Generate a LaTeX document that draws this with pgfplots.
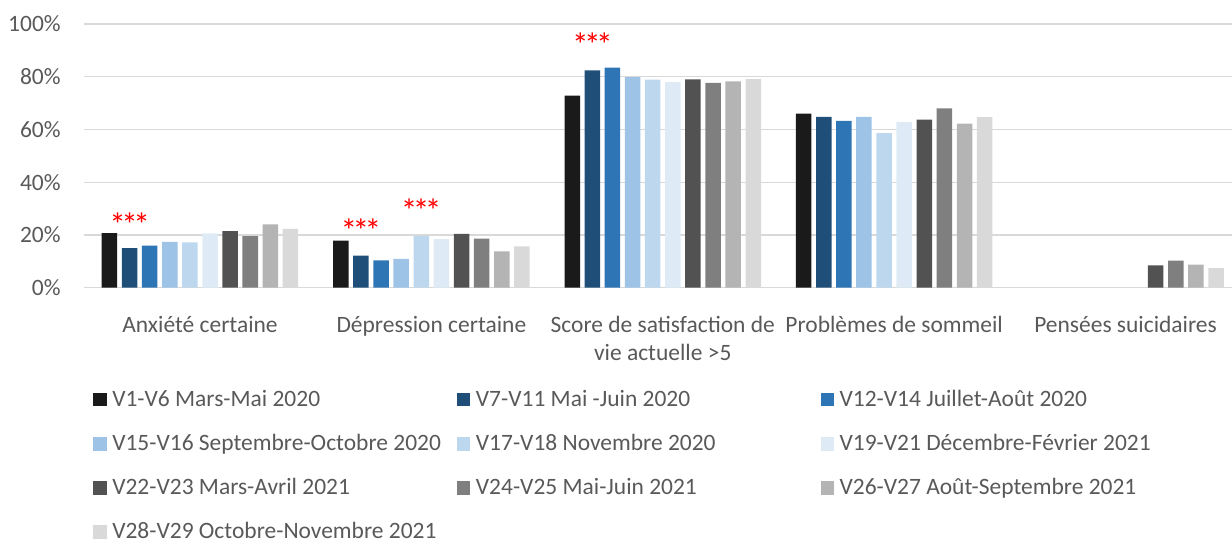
\documentclass[border=0pt]{standalone}
\usepackage{fontspec}
\setmainfont{Carlito}
\usepackage{pgfplots}
\usepackage{pgfplotstable}
\pgfplotsset{compat=1.18}
\definecolor{c1}{HTML}{1A1A1A}
\definecolor{c2}{HTML}{1F4E79}
\definecolor{c3}{HTML}{2E75B6}
\definecolor{c4}{HTML}{9DC3E6}
\definecolor{c5}{HTML}{BDD7EE}
\definecolor{c6}{HTML}{DEEBF7}
\definecolor{c7}{HTML}{525252}
\definecolor{c8}{HTML}{7F7F7F}
\definecolor{c9}{HTML}{B4B4B4}
\definecolor{c10}{HTML}{D9D9D9}
\definecolor{txt}{HTML}{595959}
\definecolor{gridc}{HTML}{D9D9D9}
\newcommand{\ff}{\fontsize{17.6}{21.4}\selectfont}
\newcommand{\lgd}[1]{\makebox[258.5pt][l]{#1}}
\newcommand{\stars}{\makebox[9pt]{*}\makebox[9pt]{*}\makebox[9pt]{*}}
\pgfplotstableread{
x v1 v2 v3 v4 v5 v6 v7 v8 v9 v10
0 20.7 15.0 16.0 17.4 17.2 20.6 21.5 19.6 24.0 22.3
1 17.9 12.2 10.4 10.9 19.6 18.4 20.4 18.6 13.8 15.7
2 72.8 82.4 83.5 79.9 78.9 78.0 79.0 77.7 78.2 79.1
3 66.0 64.8 63.3 64.8 58.6 62.8 63.7 68.0 62.2 64.7
4 nan nan nan nan nan nan 8.5 10.3 8.8 7.4
}\data
\begin{document}
\begin{tikzpicture}
\begin{axis}[
  at={(0,0)}, anchor=south west,
  scale only axis, width=867.75pt, height=197.8pt,
  xmin=-0.5, xmax=4.5, ymin=0, ymax=100,
  ybar, bar width=0.067,
  clip=false,
  axis line style={draw=none},
  tick style={draw=none},
  ymajorgrids, grid style={draw=gridc, line width=1pt},
  ytick={0,20,40,60,80,100},
  yticklabels={0\%,20\%,40\%,60\%,80\%,100\%},
  yticklabel style={anchor=east, inner sep=0pt, xshift=-17.5pt},
  xtick={0,1,2,3,4},
  xticklabels={Anxiété certaine, Dépression certaine, {\begin{tabular}[t]{@{}c@{}}Score de satisfaction de\\vie actuelle >5\end{tabular}}, Problèmes de sommeil, Pensées suicidaires},
  xticklabel style={anchor=base, inner sep=0pt, yshift=-29.25pt},
  tick label style={font=\ff, text=txt},
  /pgf/number format/assume math mode=true,
  legend columns=3,
  legend image code/.code={\fill[#1,draw=none] (0pt,0pt) rectangle (10pt,10pt); \path (14.25pt,0pt);},
  legend style={
    at={(0,0)}, anchor=north west, xshift=6.75pt, yshift=-77.0pt,
    draw=none, fill=none, inner sep=0pt, outer sep=0pt,
    column sep=0pt, row sep=21.1pt,
    font=\ff, text=txt,
    nodes={inner sep=0pt, outer sep=0pt, text height=12pt, text depth=0pt},
    cells={anchor=base west},
  },
]
\addplot[fill=c1, draw=none, bar shift=-0.3911] table[x=x,y=v1]{\data};
\addlegendentry{\lgd{V1-V6 Mars-Mai 2020}}
\addplot[fill=c2, draw=none, bar shift=-0.3042] table[x=x,y=v2]{\data};
\addlegendentry{\lgd{V7-V11 Mai -Juin 2020}}
\addplot[fill=c3, draw=none, bar shift=-0.2173] table[x=x,y=v3]{\data};
\addlegendentry{\lgd{V12-V14 Juillet-Août 2020}}
\addplot[fill=c4, draw=none, bar shift=-0.1304] table[x=x,y=v4]{\data};
\addlegendentry{\lgd{V15-V16 Septembre-Octobre 2020}}
\addplot[fill=c5, draw=none, bar shift=-0.0435] table[x=x,y=v5]{\data};
\addlegendentry{\lgd{V17-V18 Novembre 2020}}
\addplot[fill=c6, draw=none, bar shift=0.0435] table[x=x,y=v6]{\data};
\addlegendentry{\lgd{V19-V21 Décembre-Février 2021}}
\addplot[fill=c7, draw=none, bar shift=0.1304] table[x=x,y=v7]{\data};
\addlegendentry{\lgd{V22-V23 Mars-Avril 2021}}
\addplot[fill=c8, draw=none, bar shift=0.2173] table[x=x,y=v8]{\data};
\addlegendentry{\lgd{V24-V25 Mai-Juin 2021}}
\addplot[fill=c9, draw=none, bar shift=0.3042] table[x=x,y=v9]{\data};
\addlegendentry{\lgd{V26-V27 Août-Septembre 2021}}
\addplot[fill=c10, draw=none, bar shift=0.3911] table[x=x,y=v10]{\data};
\addlegendentry{\lgd{V28-V29 Octobre-Novembre 2021}}
\node[text=red, anchor=base, font=\fontsize{25}{25}\selectfont, inner sep=0pt] at (axis cs:-0.3042,19.6) {\stars};
\node[text=red, anchor=base, font=\fontsize{25}{25}\selectfont, inner sep=0pt] at (axis cs:0.6958,17.2) {\stars};
\node[text=red, anchor=base, font=\fontsize{25}{25}\selectfont, inner sep=0pt] at (axis cs:0.9565,24.9) {\stars};
\node[text=red, anchor=base, font=\fontsize{25}{25}\selectfont, inner sep=0pt] at (axis cs:1.6958,87.7) {\stars};
\end{axis}
\pgfresetboundingbox
\path (-63.2pt,-192.2pt) rectangle (860.8pt,215.8pt);
\end{tikzpicture}
\end{document}
